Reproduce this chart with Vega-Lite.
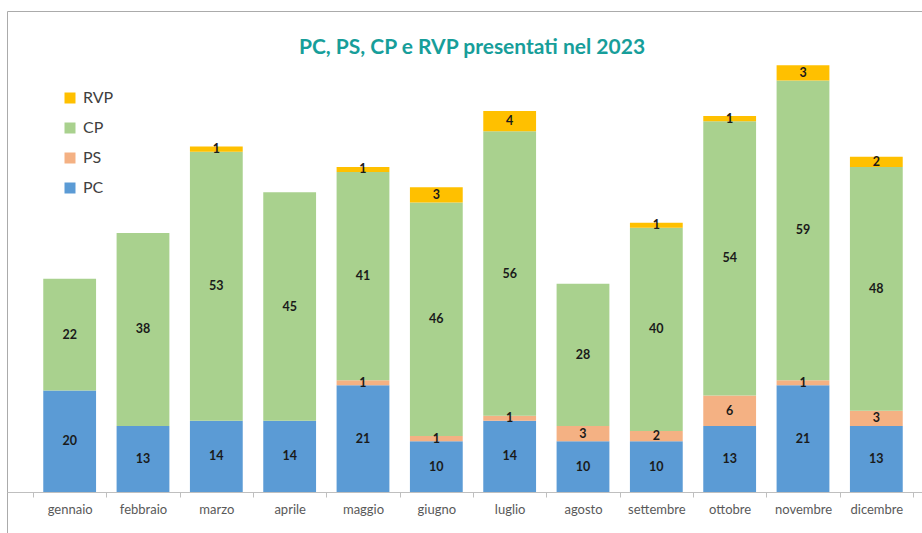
{
  "$schema": "https://vega.github.io/schema/vega-lite/v6.json",
  "width": 920,
  "height": 527,
  "padding": {"left": 7, "top": 11, "right": 0, "bottom": 0},
  "autosize": {"type": "none"},
  "background": "white",
  "config": {"view": {"stroke": "#ababab", "strokeWidth": 1}},
  "title": {
    "text": "PC, PS, CP e RVP presentati nel 2023",
    "font": "Lato",
    "fontSize": 21,
    "fontWeight": "bold",
    "color": "#179E9A",
    "anchor": "middle",
    "baseline": "alphabetic",
    "offset": -64,
    "dx": 5
  },
  "data": {
    "values": [
      {"mese": "gennaio", "serie": "PC", "valore": 20},
      {"mese": "gennaio", "serie": "CP", "valore": 22},
      {"mese": "febbraio", "serie": "PC", "valore": 13},
      {"mese": "febbraio", "serie": "CP", "valore": 38},
      {"mese": "marzo", "serie": "PC", "valore": 14},
      {"mese": "marzo", "serie": "CP", "valore": 53},
      {"mese": "marzo", "serie": "RVP", "valore": 1},
      {"mese": "aprile", "serie": "PC", "valore": 14},
      {"mese": "aprile", "serie": "CP", "valore": 45},
      {"mese": "maggio", "serie": "PC", "valore": 21},
      {"mese": "maggio", "serie": "PS", "valore": 1},
      {"mese": "maggio", "serie": "CP", "valore": 41},
      {"mese": "maggio", "serie": "RVP", "valore": 1},
      {"mese": "giugno", "serie": "PC", "valore": 10},
      {"mese": "giugno", "serie": "PS", "valore": 1},
      {"mese": "giugno", "serie": "CP", "valore": 46},
      {"mese": "giugno", "serie": "RVP", "valore": 3},
      {"mese": "luglio", "serie": "PC", "valore": 14},
      {"mese": "luglio", "serie": "PS", "valore": 1},
      {"mese": "luglio", "serie": "CP", "valore": 56},
      {"mese": "luglio", "serie": "RVP", "valore": 4},
      {"mese": "agosto", "serie": "PC", "valore": 10},
      {"mese": "agosto", "serie": "PS", "valore": 3},
      {"mese": "agosto", "serie": "CP", "valore": 28},
      {"mese": "settembre", "serie": "PC", "valore": 10},
      {"mese": "settembre", "serie": "PS", "valore": 2},
      {"mese": "settembre", "serie": "CP", "valore": 40},
      {"mese": "settembre", "serie": "RVP", "valore": 1},
      {"mese": "ottobre", "serie": "PC", "valore": 13},
      {"mese": "ottobre", "serie": "PS", "valore": 6},
      {"mese": "ottobre", "serie": "CP", "valore": 54},
      {"mese": "ottobre", "serie": "RVP", "valore": 1},
      {"mese": "novembre", "serie": "PC", "valore": 21},
      {"mese": "novembre", "serie": "PS", "valore": 1},
      {"mese": "novembre", "serie": "CP", "valore": 59},
      {"mese": "novembre", "serie": "RVP", "valore": 3},
      {"mese": "dicembre", "serie": "PC", "valore": 13},
      {"mese": "dicembre", "serie": "PS", "valore": 3},
      {"mese": "dicembre", "serie": "CP", "valore": 48},
      {"mese": "dicembre", "serie": "RVP", "valore": 2}
    ]
  },
  "transform": [
    {"stack": "valore", "groupby": ["mese"], "as": ["y0", "y1"]},
    {"calculate": "(datum.y0 + datum.y1) / 2", "as": "ymid"}
  ],
  "encoding": {
    "x": {
      "field": "mese",
      "type": "nominal",
      "sort": ["gennaio", "febbraio", "marzo", "aprile", "maggio", "giugno", "luglio", "agosto", "settembre", "ottobre", "novembre", "dicembre"],
      "scale": {"paddingInner": 0, "paddingOuter": 0.2727, "align": 0.65},
      "axis": {
        "title": null,
        "labelAngle": 0,
        "tickBand": "extent",
        "offset": -46,
        "domainColor": "#bfbfbf",
        "tickColor": "#bfbfbf",
        "tickSize": 5,
        "labelPadding": 6,
        "labelFont": "Lato",
        "labelFontSize": 13,
        "labelColor": "#595959",
        "grid": false
      }
    }
  },
  "layer": [
    {
      "mark": {"type": "bar", "width": {"band": 0.72}},
      "encoding": {
        "y": {
          "field": "y1",
          "type": "quantitative",
          "scale": {"domain": [-9.06, 94.69], "nice": false, "zero": false},
          "axis": null
        },
        "y2": {"field": "y0"},
        "color": {
          "field": "serie",
          "type": "nominal",
          "scale": {
            "domain": ["RVP", "CP", "PS", "PC"],
            "range": ["#FFC000", "#A9D18E", "#F4B183", "#5B9BD5"]
          },
          "legend": {
            "title": null,
            "orient": "none",
            "legendX": 55,
            "legendY": 79,
            "symbolType": "square",
            "symbolSize": 121,
            "symbolStrokeWidth": 0,
            "labelFont": "Lato",
            "labelFontSize": 16,
            "labelColor": "#404040",
            "labelOffset": 5,
            "rowPadding": 14
          }
        }
      }
    },
    {
      "mark": {"type": "text", "font": "Lato", "fontSize": 12.5, "fontWeight": "bold", "color": "#1a1a1a", "baseline": "middle"},
      "encoding": {
        "y": {"field": "ymid", "type": "quantitative"},
        "text": {"field": "valore", "type": "quantitative"}
      }
    }
  ]
}
